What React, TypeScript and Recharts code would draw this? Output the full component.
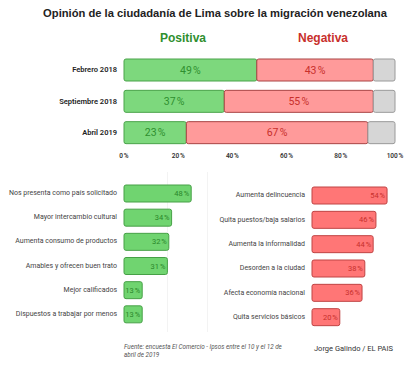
import React from 'react'
import { BarChart, Bar, XAxis, YAxis, LabelList } from 'recharts'

const periods = ['Febrero 2018', 'Septiembre 2018', 'Abril 2019']
const positiva = [49, 37, 23]
const negativa = [43, 55, 67]
const resto = [8, 8, 10]
const pctTicks = [0, 20, 40, 60, 80, 100]

const posReasons = [
  'Nos presenta como país solicitado',
  'Mayor intercambio cultural',
  'Aumenta consumo de productos',
  'Amables y ofrecen buen trato',
  'Mejor calificados',
  'Dispuestos a trabajar por menos',
]
const posValues = [48, 34, 32, 31, 13, 13]

const negReasons = [
  'Aumenta delincuencia',
  'Quita puestos/baja salarios',
  'Aumenta la informalidad',
  'Desorden a la ciudad',
  'Afecta economía nacional',
  'Quita servicios básicos',
]
const negValues = [54, 46, 44, 38, 36, 20]

const FONT = 'Roboto, "Liberation Sans", sans-serif'
const HEAD = '"Liberation Sans", Arial, sans-serif'
const pct = (v: any) => `${v}\u202F%`

const topData = periods.map((p, i) => ({ name: p, pos: positiva[i], neg: negativa[i], rest: resto[i] }))
const posData = posReasons.map((r, i) => ({ name: r, v: posValues[i] }))
const negData = negReasons.map((r, i) => ({ name: r, v: negValues[i] }))

// plain single-line tick so long labels don't wrap
function makeTick(size: number, color: string, weight: number) {
  return (props: any) => {
    const { x, y, payload } = props
    return (
      <text x={x} y={y} textAnchor="end" dominantBaseline="central"
        style={{ fontSize: size, fill: color, fontWeight: weight, fontFamily: FONT }}>
        {payload.value}
      </text>
    )
  }
}

export default function App() {
  return (
    <div style={{ position: 'absolute', left: 0, top: 0, width: 414, height: 366, background: '#fff', fontFamily: FONT }}>
      <div style={{ position: 'absolute', top: 7, left: 0, width: 430, textAlign: 'center', fontFamily: HEAD, fontWeight: 700, fontSize: 11.2, color: '#222' }}>
        Opinión de la ciudadanía de Lima sobre la migración venezolana
      </div>
      <div style={{ position: 'absolute', top: 31, left: 133, width: 100, textAlign: 'center', fontFamily: HEAD, fontWeight: 700, fontSize: 12, color: '#2f8f2f' }}>
        Positiva
      </div>
      <div style={{ position: 'absolute', top: 31, left: 273, width: 100, textAlign: 'center', fontFamily: HEAD, fontWeight: 700, fontSize: 12, color: '#c8302c' }}>
        Negativa
      </div>

      <div style={{ position: 'absolute', top: 0, left: 0 }}>
        <BarChart width={414} height={170} data={topData} layout="vertical" margin={{ top: 54, right: 19, bottom: 2, left: 0 }}>
          <XAxis type="number" domain={[0, 100]} ticks={pctTicks} tickFormatter={pct} axisLine={false} tickLine={false} tickSize={0} tickMargin={5} height={20} interval={0}
            tick={{ fontSize: 6.5, fill: '#333', fontWeight: 600, fontFamily: FONT }} />
          <YAxis type="category" dataKey="name" width={124} axisLine={false} tickLine={false} tickSize={0} tickMargin={7}
            tick={makeTick(7.5, '#222', 600)} />
          <Bar dataKey="pos" stackId="a" barSize={22} fill="#7dd87d" stroke="#4aa34a" strokeWidth={1} radius={2} isAnimationActive={false}>
            <LabelList dataKey="pos" position="center" formatter={pct} style={{ fontSize: 10.5, fill: '#2f8f2f', fontFamily: FONT }} />
          </Bar>
          <Bar dataKey="neg" stackId="a" barSize={22} fill="#ff9a9a" stroke="#a94444" strokeWidth={1} radius={2} isAnimationActive={false}>
            <LabelList dataKey="neg" position="center" formatter={pct} style={{ fontSize: 10.5, fill: '#c8302c', fontFamily: FONT }} />
          </Bar>
          <Bar dataKey="rest" stackId="a" barSize={22} fill="#d6d6d6" stroke="#9a9a9a" strokeWidth={1} radius={2} isAnimationActive={false} />
        </BarChart>
      </div>

      <div style={{ position: 'absolute', top: 172, left: 167, width: 0, height: 160, borderLeft: '1px solid #f3f3f3' }} />
      <div style={{ position: 'absolute', top: 172, left: 207, width: 0, height: 160, borderLeft: '1px solid #f3f3f3' }} />

      <div style={{ position: 'absolute', top: 170, left: 0 }}>
        <BarChart width={220} height={170} data={posData} layout="vertical" margin={{ top: 11, right: 26, bottom: 14, left: 0 }}>
          <XAxis type="number" domain={[0, 50]} hide />
          <YAxis type="category" dataKey="name" width={124} axisLine={false} tickLine={false} tickSize={0} tickMargin={7}
            tick={makeTick(7, '#444', 400)} />
          <Bar dataKey="v" barSize={17} fill="#70d470" stroke="#46a046" strokeWidth={1} radius={2} isAnimationActive={false}>
            <LabelList dataKey="v" position="insideRight" offset={2} formatter={pct} style={{ fontSize: 7.5, fill: '#2a862a', fontFamily: FONT }} />
          </Bar>
        </BarChart>
      </div>

      <div style={{ position: 'absolute', top: 170, left: 200 }}>
        <BarChart width={214} height={170} data={negData} layout="vertical" margin={{ top: 13, right: 18.6, bottom: 11, left: 0 }}>
          <XAxis type="number" domain={[0, 60]} hide />
          <YAxis type="category" dataKey="name" width={112} axisLine={false} tickLine={false} tickSize={0} tickMargin={7}
            tick={makeTick(7, '#444', 400)} />
          <Bar dataKey="v" barSize={17} fill="#ff7676" stroke="#c04444" strokeWidth={1} radius={2} isAnimationActive={false}>
            <LabelList dataKey="v" position="insideRight" offset={2} formatter={pct} style={{ fontSize: 7.5, fill: '#c8302c', fontFamily: FONT }} />
          </Bar>
        </BarChart>
      </div>

      <div style={{ position: 'absolute', top: 343, left: 124, width: 200, fontStyle: 'italic', fontSize: 6.3, lineHeight: '8px', color: '#555' }}>
        Fuente: encuesta El Comercio - Ipsos entre el 10 y el 12 de<br />abril de 2019
      </div>
      <div style={{ position: 'absolute', top: 344, left: 280, width: 113, textAlign: 'right', fontSize: 7.5, color: '#333' }}>
        Jorge Galindo / EL PAIS
      </div>
    </div>
  )
}
